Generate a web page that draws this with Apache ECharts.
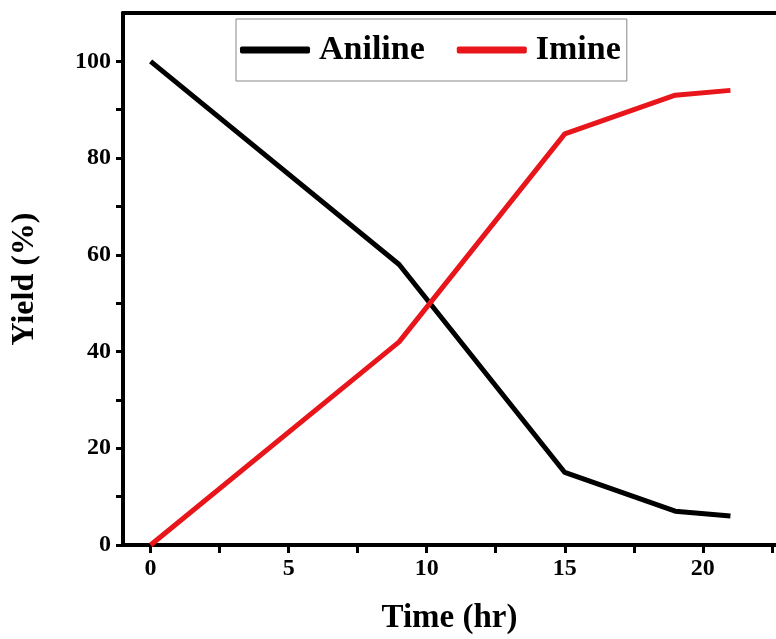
<!DOCTYPE html>
<html>
<head>
<meta charset="utf-8">
<script src="https://cdn.jsdelivr.net/npm/echarts@6/dist/echarts.min.js"></script>
<style>
  html, body { margin: 0; padding: 0; background: #fff; }
  #chart { width: 776px; height: 639px; }
</style>
</head>
<body>
<div id="chart"></div>
<script>
// 读图得到的数据
const timeHr = [0, 9, 15, 19, 21];
const aniline = [100, 58, 15, 7, 6];
const imine = [0, 42, 85, 93, 94];
const xTicks = [0, 2.5, 5, 7.5, 10, 12.5, 15, 17.5, 20, 22.5];
const xLabels = [0, 5, 10, 15, 20];
const yTicks = [0, 10, 20, 30, 40, 50, 60, 70, 80, 90, 100];
const yLabels = [0, 20, 40, 60, 80, 100];

const chart = echarts.init(document.getElementById("chart"));
const font = "Liberation Serif";
const lbl = { fontFamily: font, fontWeight: "bold", fontSize: 24, color: "#000" };

const option = {
  animation: false,
  grid: {
    left: 123,
    right: 0,
    top: 13,
    bottom: 94,
    outerBoundsMode: "none",
    containLabel: false,
  },
  legend: {
    left: 236,
    top: 19,
    width: 390,
    height: 62,
    padding: [14, 6, 14, 4],
    borderColor: "#888",
    borderWidth: 1,
    icon: "roundRect",
    itemWidth: 70,
    itemHeight: 7,
    itemGap: 32,
    textStyle: {
      fontFamily: font,
      fontWeight: "bold",
      fontSize: 34,
      color: "#000",
      padding: [0, 0, 0, 4],
    },
    data: ["Aniline", "Imine"],
  },
  xAxis: [
    {
      type: "value",
      min: -1,
      max: 22.65,
      name: "Time (hr)",
      nameLocation: "middle",
      nameGap: 57,
      nameTextStyle: { fontFamily: font, fontWeight: "bold", fontSize: 33, color: "#000" },
      splitLine: { show: false },
      axisLine: { show: true, onZero: false, lineStyle: { color: "#000", width: 4 } },
      axisTick: { show: true, customValues: xTicks, length: 8, lineStyle: { color: "#000", width: 3 } },
      axisLabel: Object.assign({ customValues: xLabels, margin: 12 }, lbl),
    },
    {
      // 顶部边框线
      type: "value",
      position: "top",
      min: -1,
      max: 22.65,
      splitLine: { show: false },
      axisLine: { show: true, onZero: false, lineStyle: { color: "#000", width: 4 } },
      axisTick: { show: false },
      axisLabel: { show: false },
    },
  ],
  yAxis: {
    type: "value",
    min: 0,
    max: 110,
    name: "Yield (%)",
    nameLocation: "middle",
    nameGap: 82,
    nameTextStyle: { fontFamily: font, fontWeight: "bold", fontSize: 32, color: "#000" },
    splitLine: { show: false },
    axisLine: { show: true, onZero: false, lineStyle: { color: "#000", width: 4 } },
    axisTick: { show: true, customValues: yTicks, length: 7, lineStyle: { color: "#000", width: 3 } },
    axisLabel: Object.assign({ customValues: yLabels, margin: 12 }, lbl),
  },
  series: [
    {
      name: "Aniline",
      type: "line",
      data: timeHr.map((t, i) => [t, aniline[i]]),
      symbol: "none",
      itemStyle: { color: "#000" },
      lineStyle: { color: "#000", width: 5 },
    },
    {
      name: "Imine",
      type: "line",
      data: timeHr.map((t, i) => [t, imine[i]]),
      symbol: "none",
      itemStyle: { color: "#e8151b" },
      lineStyle: { color: "#e8151b", width: 5 },
    },
  ],
};

chart.setOption(option);
</script>
</body>
</html>
